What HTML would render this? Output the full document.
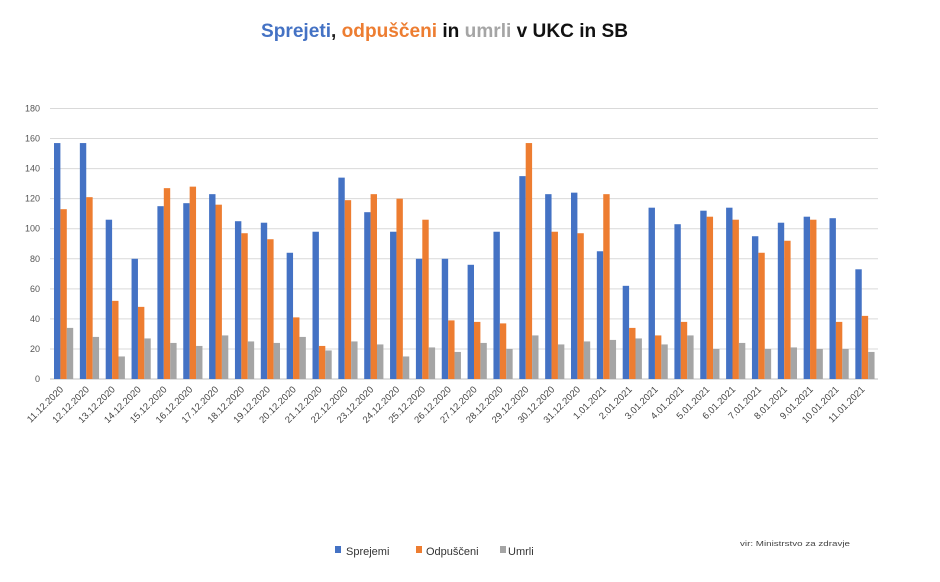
<!DOCTYPE html>
<html><head><meta charset="utf-8"><style>
html,body{margin:0;padding:0;background:#fff;}
svg{display:block;font-family:"Liberation Sans",sans-serif;}
</style></head><body>
<svg id="c" width="940" height="582" xmlns="http://www.w3.org/2000/svg">
<text x="261" y="37" font-size="19" font-weight="bold" textLength="367" lengthAdjust="spacingAndGlyphs"><tspan fill="#4472C4">Sprejeti</tspan><tspan fill="#222">, </tspan><tspan fill="#ED7D31">odpuščeni</tspan><tspan fill="#111"> in </tspan><tspan fill="#A5A5A5">umrli</tspan><tspan fill="#111"> v UKC in SB</tspan></text>
<g id="grid"></g>
<g id="bars"></g>
<g id="labels" font-size="9.5" fill="#444"></g>
<rect x="335" y="546" width="6" height="7" fill="#4472C4"/>
<text x="346" y="555" font-size="11" fill="#333">Sprejemi</text>
<rect x="416" y="546" width="6" height="7" fill="#ED7D31"/>
<text x="426" y="555" font-size="11" fill="#333">Odpuščeni</text>
<rect x="500" y="546" width="6" height="7" fill="#A5A5A5"/>
<text x="508" y="555" font-size="11" fill="#333">Umrli</text>
<text x="740" y="546" font-size="7.5" fill="#444" textLength="110" lengthAdjust="spacingAndGlyphs">vir: Ministrstvo za zdravje</text>
</svg>
<script>
var B=[157,157,106,80,115,117,123,105,104,84,98,134,111,98,80,80,76,98,135,123,124,85,62,114,103,112,114,95,104,108,107,73];
var O=[113,121,52,48,127,128,116,97,93,41,22,119,123,120,106,39,38,37,157,98,97,123,34,29,38,108,106,84,92,106,38,42];
var G=[34,28,15,27,24,22,29,25,24,28,19,25,23,15,21,18,24,20,29,23,25,26,27,23,29,20,24,20,21,20,20,18];
var L=[];for(var d=11;d<=31;d++)L.push(d+".12.2020");for(var d=1;d<=11;d++)L.push(d+".01.2021");
var ns="http://www.w3.org/2000/svg",y0=379,k=(379-108.5)/180,x0=50,cw=25.85,bw=6.4;
function el(t,a,p,txt){var e=document.createElementNS(ns,t);for(var i in a)e.setAttribute(i,a[i]);if(txt)e.textContent=txt;document.getElementById(p).appendChild(e);}
for(var v=0;v<=180;v+=20){var y=y0-v*k;el("line",{x1:50,x2:878,y1:y,y2:y,stroke:v?"#d9d9d9":"#bfbfbf","stroke-width":1},"grid");el("text",{x:40,y:y+3,"font-size":"9","fill":"#555","text-anchor":"end"},"grid",String(v));}
var C=["#4472C4","#ED7D31","#A5A5A5"],D=[B,O,G];
for(var i=0;i<32;i++){var cx=x0+i*cw;for(var s=0;s<3;s++){var h=D[s][i]*k;el("rect",{x:cx+4+s*bw,y:y0-h,width:bw,height:h,fill:C[s]},"bars");}
var lx=cx+cw/2+1,ly=390;el("text",{x:lx,y:ly,"text-anchor":"end",transform:"rotate(-45 "+lx+" "+ly+")"},"labels",L[i]);}
</script>
</body></html>
